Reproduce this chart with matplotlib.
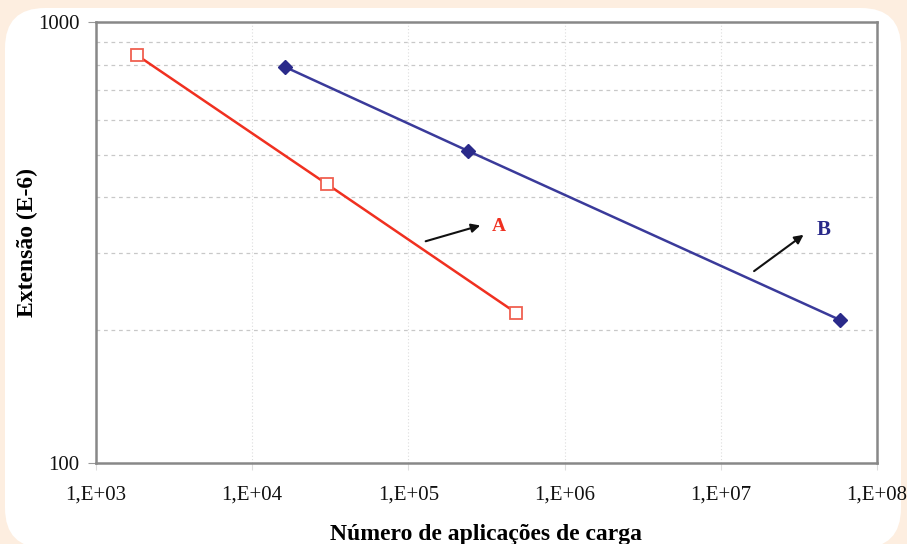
import matplotlib
matplotlib.use("Agg")
import matplotlib.pyplot as plt
from matplotlib.patches import FancyBboxPatch
from matplotlib.ticker import FixedLocator, NullFormatter

# Data
a_x = [1830, 30100, 489000]
a_y = [841, 429, 219]
b_x = [16200, 241000, 5.8e7]
b_y = [791, 510, 211]
x_ticks = [1e3, 1e4, 1e5, 1e6, 1e7, 1e8]
x_ticklabels = ["1,E+03", "1,E+04", "1,E+05", "1,E+06", "1,E+07", "1,E+08"]
y_ticks = [100, 1000]
y_ticklabels = ["100", "1000"]
y_grid = [200, 300, 400, 500, 600, 700, 800, 900]

plt.rcParams['font.family'] = ['Liberation Serif', 'DejaVu Serif']

W, H = 907, 544
fig = plt.figure(figsize=(W / 100, H / 100), dpi=100)
fig.patch.set_facecolor('#fdeee0')
panel = FancyBboxPatch((5 / W, 1 - 548 / H), (901 - 5) / W, (548 - 8) / H,
                       boxstyle="round,pad=0,rounding_size=%f" % (40 / W),
                       transform=fig.transFigure, facecolor='white',
                       edgecolor='none', mutation_aspect=W / H, zorder=-5)
fig.patches.append(panel)

ax = fig.add_axes([96 / W, 1 - 463 / H, (877 - 96) / W, (463 - 22) / H])
ax.set_zorder(2)
ax.set_xscale('log')
ax.set_yscale('log')
ax.set_xlim(1e3, 1e8)
ax.set_ylim(100, 1000)
ax.set_facecolor('white')

for yv in y_grid:
    ax.axhline(yv, color='#c8c8c8', lw=0.9, ls=(0, (3, 3)), zorder=1)
for xv in x_ticks[1:-1]:
    ax.axvline(xv, color='#dddddd', lw=0.8, ls=(0, (1, 2)), zorder=1)

ax.plot(a_x, a_y, color='#f03020', lw=1.8, marker='s', ms=8,
        mfc='white', mec='#f06050', mew=1.3, zorder=3)
ax.plot(b_x, b_y, color='#3a3a9a', lw=1.8, marker='D', ms=7,
        mfc='#2a2a8a', mec='#2a2a8a', zorder=3)

ax.annotate("", xy=(3.0e5, 347), xytext=(1.24e5, 317),
            arrowprops=dict(arrowstyle='-|>', color='#111111', lw=1.5,
                            mutation_scale=13))
ax.text(3.43e5, 343, "A", color='#f03020', fontsize=14, fontweight='bold',
        va='center', ha='left')
ax.annotate("", xy=(3.5e7, 332), xytext=(1.58e7, 270),
            arrowprops=dict(arrowstyle='-|>', color='#111111', lw=1.5,
                            mutation_scale=13))
ax.text(4.13e7, 338, "B", color='#2a2a8a', fontsize=15, fontweight='bold',
        va='center', ha='left')

ax.xaxis.set_major_locator(FixedLocator(x_ticks))
ax.set_xticklabels(x_ticklabels)
ax.xaxis.set_minor_formatter(NullFormatter())
ax.xaxis.set_minor_locator(FixedLocator([]))
ax.yaxis.set_major_locator(FixedLocator(y_ticks))
ax.set_yticklabels(y_ticklabels)
ax.yaxis.set_minor_locator(FixedLocator([]))
ax.yaxis.set_minor_formatter(NullFormatter())

ax.tick_params(axis='x', direction='out', length=5, color='#dddddd',
               labelsize=15, pad=11, labelcolor='#111111')
ax.tick_params(axis='y', direction='out', length=6, color='#999999',
               labelsize=15, pad=6, labelcolor='#111111')

for s in ax.spines.values():
    s.set_color('#888888')
    s.set_linewidth(1.8)

ax.set_xlabel("Número de aplicações de carga", fontsize=17, fontweight='bold',
              labelpad=14)
ax.set_ylabel("Extensão (E-6)", fontsize=17, fontweight='bold', labelpad=0)

fig.savefig("out.png", dpi=100, facecolor=fig.get_facecolor())
